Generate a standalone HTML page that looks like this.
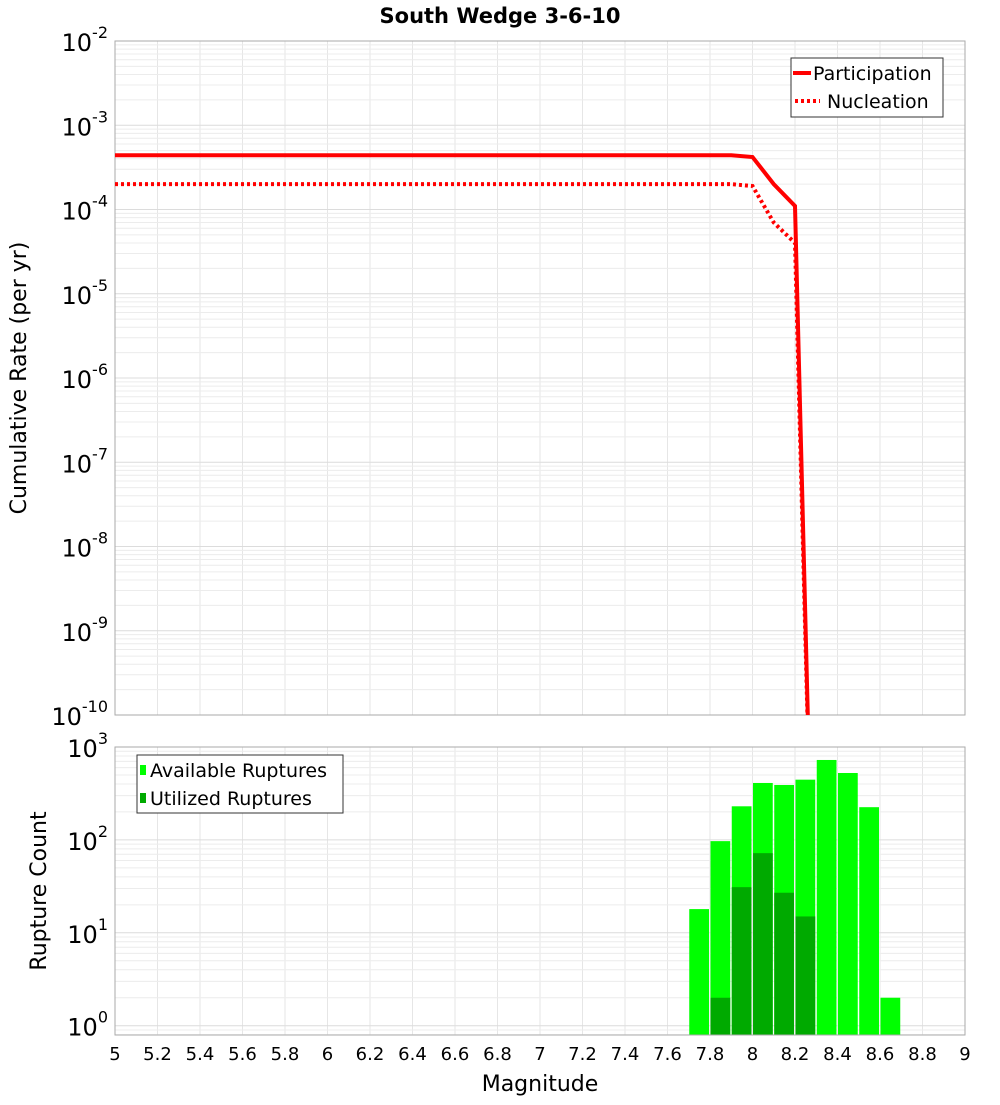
<!DOCTYPE html>
<html><head><meta charset="utf-8"><style>
body{margin:0;background:#fff}
svg text{font-family:"DejaVu Sans","Liberation Sans",sans-serif}
</style></head><body>
<svg id="c" width="1000" height="1100" xmlns="http://www.w3.org/2000/svg">
<text x="500" y="23" text-anchor="middle" font-size="21" font-weight="bold">South Wedge 3-6-10</text>
</svg>
<script>
const mags=[5.0,7.9,8.0,8.1,8.2,8.3];
const participation=[4.4e-4,4.4e-4,4.2e-4,2.0e-4,1.1e-4,1e-14];
const nucleation=[2.0e-4,2.0e-4,1.9e-4,7e-5,4e-5,1e-14];
const binStarts=[7.7,7.8,7.9,8.0,8.1,8.2,8.3,8.4,8.5,8.6];
const available=[18,97,230,410,390,445,725,525,225,2];
const utilized=[0,2,31,72,27,15,0,0,0,0];
const xTicks=["5","5.2","5.4","5.6","5.8","6","6.2","6.4","6.6","6.8","7","7.2","7.4","7.6","7.8","8","8.2","8.4","8.6","8.8","9"];

const NS="http://www.w3.org/2000/svg";
const svg=document.getElementById('c');
function mk(tag,attrs,parent){const e=document.createElementNS(NS,tag);for(const k in attrs)e.setAttribute(k,attrs[k]);(parent||svg).appendChild(e);return e;}
const X0=115,X1=965;
const xs=m=>X0+(m-5)/4*(X1-X0);
const T0=41,T1=715; const yTop=v=>T0+(-2-Math.log10(v))*(T1-T0)/8;
const B0=747,B1=1035; const bMin=-0.1,bMax=3; const yBot=v=>B0+(bMax-Math.log10(v))*(B1-B0)/(bMax-bMin);

function grid(top,bot,yf,dmin,dmax){
  for(let i=0;i<xTicks.length;i++){const x=xs(5+i*0.2);const l=mk('line',{x1:x,x2:x,y1:top,y2:bot,stroke:'#e6e6e6'});
    }
  for(let d=dmin;d<=dmax;d++)for(let k=1;k<10;k++){const v=k*Math.pow(10,d);const y=yf(v);if(y<top-0.5||y>bot+0.5)continue;
    const l=mk('line',{x1:X0,x2:X1,y1:y,y2:y,stroke:k==1?'#dcdcdc':'#ececec'});
    }
}
grid(T0,T1,yTop,-10,-2);
grid(B0,B1,yBot,-1,3);

// top frame
let f=mk('rect',{x:X0,y:T0,width:X1-X0,height:T1-T0,fill:'none',stroke:'#aaa'});

// clip
const defs=mk('defs',{});const cp=mk('clipPath',{id:'tc'},defs);mk('rect',{x:X0,y:T0,width:X1-X0,height:T1-T0},cp);
const g=mk('g',{'clip-path':'url(#tc)'});
let p=mk('polyline',{points:mags.map((m,i)=>xs(m)+','+yTop(nucleation[i])).join(' '),fill:'none',stroke:'#f00','stroke-width':4,'stroke-dasharray':'3 3'},g);

p=mk('polyline',{points:mags.map((m,i)=>xs(m)+','+yTop(participation[i])).join(' '),fill:'none',stroke:'#f00','stroke-width':4},g);


function ylab(y,exp,name){const t=mk('text',{x:108,y:y+10,'text-anchor':'end','font-size':24});
  
  t.textContent='10';const s=mk('tspan',{dy:-13,'font-size':16},t);s.textContent=exp;}
for(let d=-10;d<=-2;d++)ylab(yTop(Math.pow(10,d)),String(d),'y-tick-label');
for(let d=0;d<=3;d++)ylab(yBot(Math.pow(10,d)),String(d),'y-tick-label-bottom');

// legend top
let lg=mk('g',{});
mk('rect',{x:791,y:58,width:152,height:59,fill:'#fff',stroke:'#333'},lg);
mk('line',{x1:793,x2:811,y1:73,y2:73,stroke:'#f00','stroke-width':4},lg);
let t=mk('text',{x:813,y:80,'font-size':19},lg);t.textContent='Participation';
mk('line',{x1:795,x2:820,y1:101,y2:101,stroke:'#f00','stroke-width':4,'stroke-dasharray':'3 3'},lg);
t=mk('text',{x:827,y:108,'font-size':19},lg);t.textContent='Nucleation';

// bottom bars
const bw=(X1-X0)/40;
binStarts.forEach((m,i)=>{const x=xs(m);
  let r=mk('rect',{x:x+0.5,y:yBot(available[i]),width:bw-1.5,height:B1-yBot(available[i]),fill:'#00ff00'});
  
  if(utilized[i]>0){r=mk('rect',{x:x+0.5,y:yBot(utilized[i]),width:bw-1.5,height:B1-yBot(utilized[i]),fill:'#00aa00'});
  }
});
f=mk('rect',{x:X0,y:B0,width:X1-X0,height:B1-B0,fill:'none',stroke:'#aaa'});


lg=mk('g',{});
mk('rect',{x:137,y:755,width:206,height:58,fill:'#fff',stroke:'#333'},lg);
mk('rect',{x:140,y:765,width:6,height:10,fill:'#00ff00'},lg);
t=mk('text',{x:150,y:777,'font-size':19},lg);t.textContent='Available Ruptures';
mk('rect',{x:140,y:793,width:6,height:10,fill:'#00aa00'},lg);
t=mk('text',{x:150,y:805,'font-size':19},lg);t.textContent='Utilized Ruptures';

xTicks.forEach((s,i)=>{const tt=mk('text',{x:xs(5+i*0.2),y:1060,'text-anchor':'middle','font-size':18});
  tt.textContent=s;});

t=mk('text',{x:540,y:1091,'text-anchor':'middle','font-size':22});t.textContent='Magnitude';
t=mk('text',{x:26,y:378,'text-anchor':'middle','font-size':22,transform:'rotate(-90 26 378)'});t.textContent='Cumulative Rate (per yr)';
t=mk('text',{x:46,y:891,'text-anchor':'middle','font-size':22,transform:'rotate(-90 46 891)'});t.textContent='Rupture Count';
</script>
</body></html>
